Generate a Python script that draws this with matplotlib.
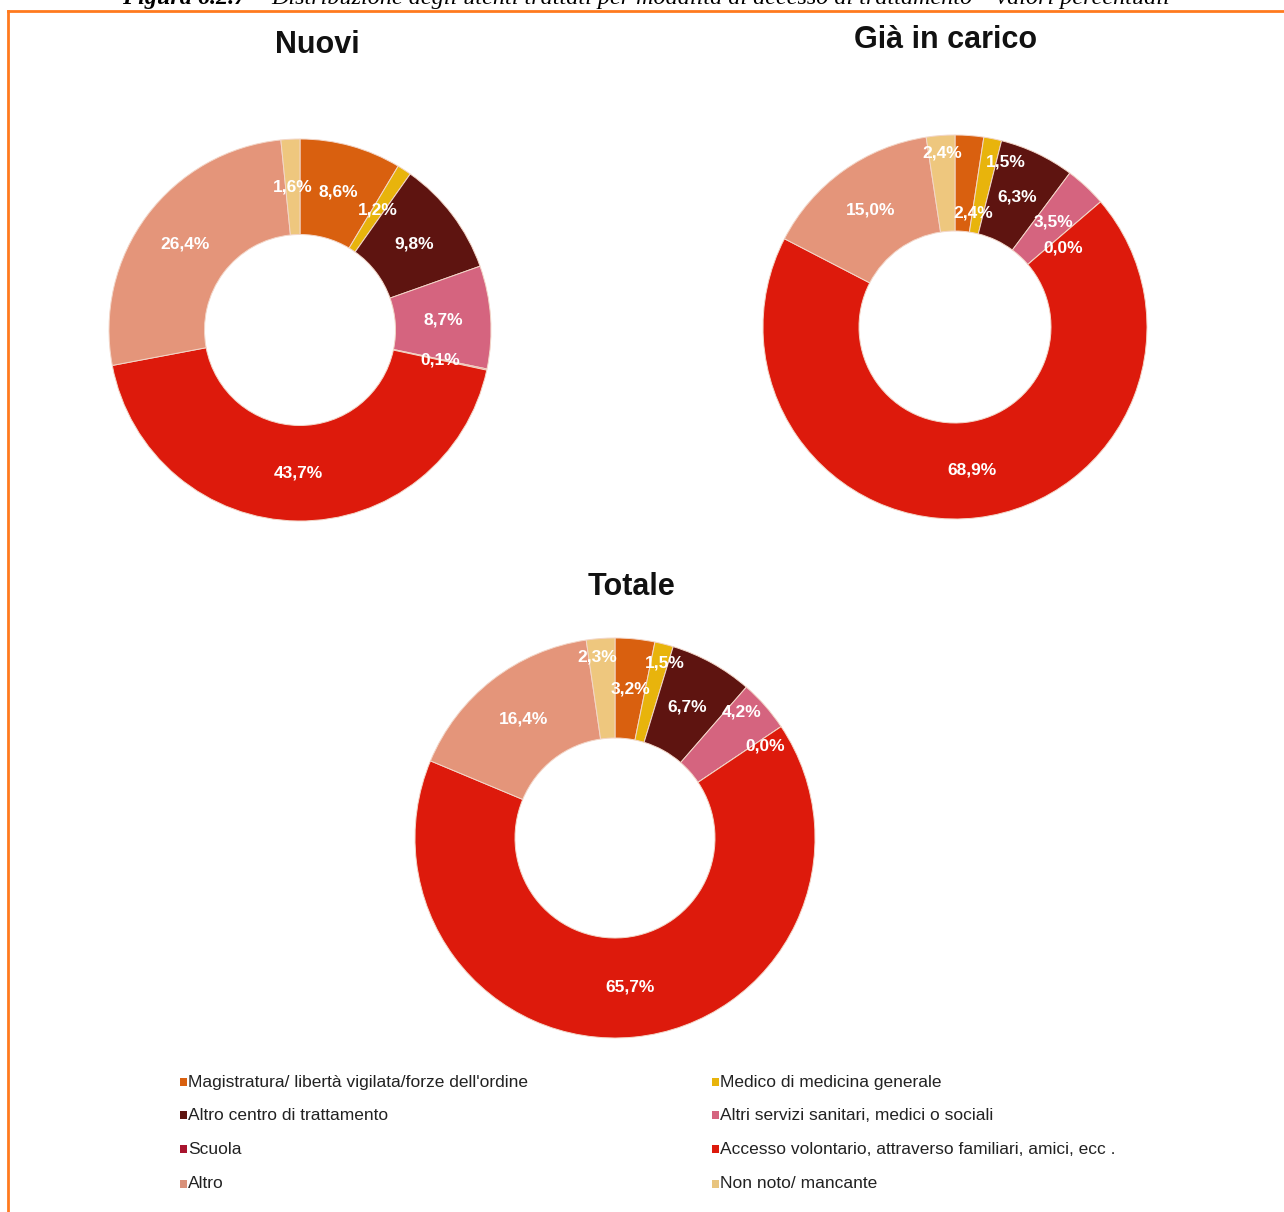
import matplotlib
matplotlib.use("Agg")
import matplotlib.pyplot as plt
import matplotlib.patches as mpatches
import numpy as np

# ---------------- data ----------------
categories = [
    "Magistratura/ libertà vigilata/forze dell'ordine",
    "Medico di medicina generale",
    "Altro centro di trattamento",
    "Altri servizi sanitari, medici o sociali",
    "Scuola",
    "Accesso volontario, attraverso familiari, amici, ecc .",
    "Altro",
    "Non noto/ mancante",
]
nuovi = [8.6, 1.2, 9.8, 8.7, 0.1, 43.7, 26.4, 1.6]
gia_in_carico = [2.4, 1.5, 6.3, 3.5, 0.0, 68.9, 15.0, 2.4]
totale = [3.2, 1.5, 6.7, 4.2, 0.0, 65.7, 16.4, 2.3]
chart_titles = ["Nuovi", "Già in carico", "Totale"]
caption_bold = "Figura 6.2.7 – "
caption_rest = "Distribuzione degli utenti trattati per modalità di accesso al trattamento – valori percentuali"

# ---------------- style ----------------
colors = ["#D9600F", "#E8B40C", "#5E1410", "#D5647F",
          "#C83040", "#DD1A0C", "#E4957A", "#EEC77E"]
legend_colors = ["#D9600F", "#E8B40C", "#5E1410", "#D5647F",
                 "#A8142E", "#DD1A0C", "#D9917A", "#E8C47E"]

W, H = 1284, 1212
fig = plt.figure(figsize=(W / 100, H / 100), dpi=100)
plt.rcParams['font.family'] = ['Liberation Sans', 'DejaVu Sans']

def px_axes(cx, cy, r):
    return fig.add_axes([(cx - r) / W, (H - cy - r) / H, 2 * r / W, 2 * r / H])

# label placement overrides: index -> (radial factor, clockwise angle shift deg)
layouts = [
    dict(center=(300, 330), r=191, title_xy=(317, 45), over={}),
    dict(center=(955, 327), r=192, title_xy=(946, 40),
         over={0: (0.60, 4.7), 1: (0.90, 5.7), 4: (0.70, 4.5), 7: (0.91, 0)}),
    dict(center=(615, 838), r=200, title_xy=(631, 587),
         over={1: (0.91, 1.8), 3: (0.895, -3.4), 4: (0.88, 2.5), 7: (0.91, -1.3)}),
]
datasets = [nuovi, gia_in_carico, totale]

for data, lay, title in zip(datasets, layouts, chart_titles):
    cx, cy = lay["center"]
    ax = px_axes(cx, cy, lay["r"])
    wedges, _ = ax.pie(data, colors=colors, startangle=90, counterclock=False,
                       radius=1.0,
                       wedgeprops=dict(width=0.5, edgecolor="#f3d6c8", linewidth=0.7))
    ax.set_xlim(-1.0, 1.0)
    ax.set_ylim(-1.0, 1.0)
    ax.set_aspect('equal')
    ax.axis('off')
    for w in wedges:
        w.set_clip_on(False)
    for i, (w, v) in enumerate(zip(wedges, data)):
        mid = (w.theta1 + w.theta2) / 2.0
        rf, dang = lay["over"].get(i, (0.75, 0.0))
        ang = np.deg2rad(mid - dang)
        ax.text(rf * np.cos(ang), rf * np.sin(ang),
                f"{v:.1f}%".replace(".", ","), ha='center', va='center',
                color='white', fontsize=12.5, fontweight='bold')
    tx, ty = lay["title_xy"]
    fig.text(tx / W, 1 - ty / H, title, ha='center', va='center',
             fontsize=22, fontweight='bold', color='#111111')

# ---------------- legend ----------------
rows_y = [1082, 1115, 1149, 1184]
cols_x = [180, 712]
for i, (lab, col) in enumerate(zip(categories, legend_colors)):
    r, c = divmod(i, 2)
    x0 = cols_x[c]
    y0 = rows_y[r]
    fig.patches.append(mpatches.Rectangle(((x0) / W, 1 - (y0 + 4) / H), 7 / W, 8 / H,
                                          transform=fig.transFigure, facecolor=col,
                                          edgecolor='none'))
    fig.text((x0 + 8) / W, 1 - y0 / H, lab, ha='left', va='center',
             fontsize=12.5, color='#222222')

# ---------------- frame ----------------
fig.add_artist(plt.Line2D([8 / W, 8 / W], [0, 1 - 11 / H], transform=fig.transFigure,
                          color='#FF7A1E', linewidth=2))
fig.add_artist(plt.Line2D([8 / W, 1], [1 - 11 / H, 1 - 11 / H], transform=fig.transFigure,
                          color='#FF7A1E', linewidth=2))

# ---------------- caption (clipped at top, as in the reference) ----------------
renderer = fig.canvas.get_renderer()
t1 = fig.text(0, 1 - 4 / H, caption_bold, ha='left', va='baseline',
              fontsize=17.4, fontweight='bold', fontstyle='italic',
              family=['Liberation Serif', 'DejaVu Serif'])
t2 = fig.text(0, 1 - 4 / H, caption_rest, ha='left', va='baseline',
              fontsize=17.4, fontstyle='italic',
              family=['Liberation Serif', 'DejaVu Serif'])
w1 = t1.get_window_extent(renderer).width
w2 = t2.get_window_extent(renderer).width
start = (122 + 1170) / 2 - (w1 + w2) / 2
t1.set_x(start / W)
t2.set_x((start + w1) / W)

fig.savefig("out.png", dpi=100, facecolor='white')
